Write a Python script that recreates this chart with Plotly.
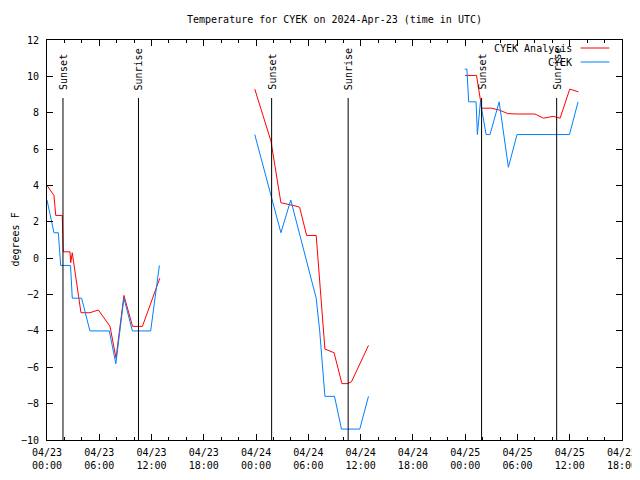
import pandas as pd
import plotly.graph_objects as go

BASE = pd.Timestamp("2024-04-23 00:00")

# ---- CYEK Analysis (red): hours since 2024-04-23 00:00 UTC, degrees F
ana_h1 = [0.0, 0.8, 1.0, 1.75, 1.87, 2.64, 2.72, 2.9, 3.9, 4.93, 5.9, 6.66, 7.04, 7.23, 7.92, 8.83, 9.82, 10.95, 12.95]
ana_v1 = [4.0, 3.45, 2.35, 2.35, 0.35, 0.35, -0.25, 0.3, -3.0, -3.0, -2.85, -3.35, -3.6, -3.75, -5.5, -2.05, -3.75, -3.75, -1.1]
ana_h2 = [23.85, 25.7, 26.85, 28.0, 28.7, 29.0, 29.8, 30.9, 31.9, 32.95, 33.85, 34.45, 34.95, 36.9]
ana_v2 = [9.3, 6.45, 3.05, 2.95, 2.85, 2.8, 1.25, 1.25, -5.0, -5.2, -6.9, -6.9, -6.8, -4.8]
ana_h3 = [48.0, 49.3, 49.9, 51.0, 51.9, 52.9, 54.0, 55.0, 56.0, 57.0, 57.6, 58.1, 58.9, 60.0, 61.0]
ana_v3 = [10.05, 10.05, 8.25, 8.25, 8.15, 7.95, 7.93, 7.93, 7.93, 7.7, 7.75, 7.8, 7.7, 9.3, 9.15]

# ---- CYEK observations (blue)
obs_h1 = [0.0, 0.8, 1.3, 1.57, 2.7, 2.9, 3.97, 4.93, 7.15, 7.9, 8.83, 9.8, 11.9, 12.9]
obs_v1 = [3.2, 1.4, 1.4, -0.4, -0.4, -2.2, -2.2, -4.0, -4.0, -5.8, -2.2, -4.0, -4.0, -0.4]
obs_h2 = [23.85, 26.85, 27.98, 28.95, 29.9, 30.9, 31.3, 31.9, 33.0, 33.8, 35.9, 36.9]
obs_v2 = [6.8, 1.4, 3.2, 1.4, -0.4, -2.2, -4.0, -7.6, -7.6, -9.4, -9.4, -7.6]
obs_h3 = [47.95, 48.2, 48.4, 49.25, 49.4, 49.75, 50.4, 50.85, 51.9, 52.96, 53.95, 59.97, 60.96]
obs_v3 = [10.4, 10.4, 8.6, 8.6, 6.8, 8.6, 6.8, 6.8, 8.6, 5.0, 6.8, 6.8, 8.6]

# ---- sunset / sunrise times (UTC)
sun_labels = ["Sunset", "Sunrise", "Sunset", "Sunrise", "Sunset", "Sunrise"]
sun_times = ["2024-04-23 01:50", "2024-04-23 10:30", "2024-04-24 01:47",
             "2024-04-24 10:34", "2024-04-25 01:53", "2024-04-25 10:30"]

series_names = ["CYEK Analysis", "CYEK"]
series_colors = ["#ff0000", "#0080ff"]

FONT = "DejaVu Sans Mono"

# page body has an 8px default margin; size the figure so the plot lands where it should
W, H = 632, 472


def join(hs, vs):
    xs, ys = [], []
    for h, v in zip(hs, vs):
        if xs:
            xs.append(None)
            ys.append(None)
        xs += [BASE + pd.Timedelta(hours=t) for t in h]
        ys += list(v)
    return xs, ys


ax, ay = join([ana_h1, ana_h2, ana_h3], [ana_v1, ana_v2, ana_v3])
ox, oy = join([obs_h1, obs_h2, obs_h3], [obs_v1, obs_v2, obs_v3])

fig = go.Figure()
fig.add_trace(go.Scatter(x=ax, y=ay, mode="lines", name=series_names[0],
                         line=dict(color=series_colors[0], width=1), connectgaps=False))
fig.add_trace(go.Scatter(x=ox, y=oy, mode="lines", name=series_names[1],
                         line=dict(color=series_colors[1], width=1), connectgaps=False))

for lab, t in zip(sun_labels, sun_times):
    fig.add_shape(type="line", x0=t, x1=t, xref="x", yref="paper", y0=0, y1=0.855,
                  line=dict(color="black", width=1))
    fig.add_annotation(x=t, xref="x", y=0.87, yref="paper", text=lab, textangle=-90,
                       showarrow=False, xanchor="center", yanchor="bottom",
                       font=dict(family=FONT, size=10, color="black"))

# manual gnuplot-style legend (text left, sample right)
leg_y = [0.98, 0.945]
for name, col, yy in zip(series_names, series_colors, leg_y):
    fig.add_annotation(x=0.9165, xref="paper", y=yy, yref="paper", text=name,
                       showarrow=False, xanchor="right", yanchor="middle",
                       font=dict(family=FONT, size=10, color="black"))
    fig.add_shape(type="line", xref="paper", yref="paper", x0=0.928, x1=0.978,
                  y0=yy, y1=yy, line=dict(color=col, width=1))

fig.add_annotation(x=-0.0565, xref="paper", y=0.5, yref="paper", text="degrees F",
                   textangle=-90, showarrow=False, xanchor="center", yanchor="middle",
                   font=dict(family=FONT, size=10, color="black"))

fig.update_layout(
    width=W, height=H,
    margin=dict(l=39, r=18, t=32, b=40, autoexpand=False),
    paper_bgcolor="white", plot_bgcolor="white",
    showlegend=False,
    title=dict(text="Temperature for CYEK on 2024-Apr-23 (time in UTC)",
               x=0.5, xref="paper", xanchor="center", y=1 - 11 / H, yanchor="middle",
               font=dict(family=FONT, size=10, color="black")),
    font=dict(family=FONT, size=10, color="black"),
)
fig.update_xaxes(
    range=["2024-04-23 00:00", "2024-04-25 18:00"],
    tick0="2024-04-23 00:00", dtick=6 * 3600 * 1000,
    tickformat="%m/%d<br>%H:%M",
    ticks="inside", ticklen=6, tickcolor="black", ticklabelstandoff=3,
    showline=True, linecolor="black", linewidth=1, mirror="ticks",
    showgrid=False, zeroline=False,
    minor=dict(dtick=2 * 3600 * 1000, tick0="2024-04-23 00:00", ticks="inside",
               ticklen=3, tickcolor="black", showgrid=False),
    tickfont=dict(family=FONT, size=10, color="black"),
)
fig.update_yaxes(
    range=[-10, 12], dtick=2, tick0=0,
    ticks="inside", ticklen=6, tickcolor="black", ticklabelstandoff=5,
    showline=True, linecolor="black", linewidth=1, mirror="ticks",
    showgrid=False, zeroline=False,
    tickfont=dict(family=FONT, size=10, color="black"),
)

fig.write_html("out.html")
